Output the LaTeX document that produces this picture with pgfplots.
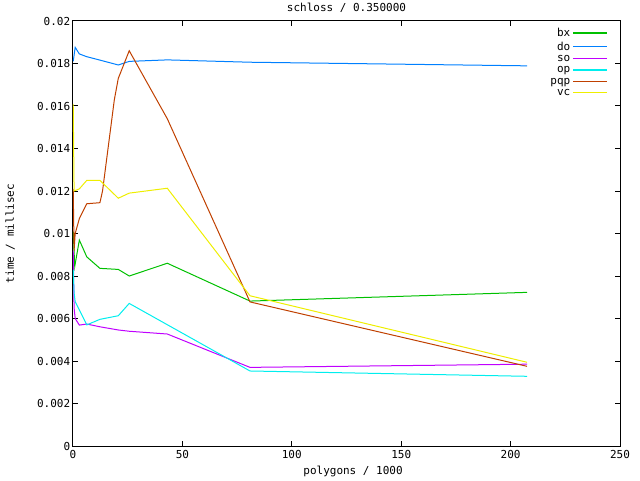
\documentclass[border=0pt]{standalone}
\usepackage{fontspec}
\setmainfont{DejaVu Sans Mono}
\usepackage{pgfplots}
\pgfplotsset{compat=1.18}

\definecolor{gbx}{RGB}{0,192,0}
\definecolor{gdo}{RGB}{0,128,255}
\definecolor{gso}{RGB}{192,0,255}
\definecolor{gop}{RGB}{0,238,238}
\definecolor{gpqp}{RGB}{192,64,0}
\definecolor{gvc}{RGB}{238,238,0}

\begin{document}
\fontsize{11}{12}\selectfont
\begin{tikzpicture}
\useasboundingbox (-73pt,-34pt) rectangle (567pt,446pt);
\begin{axis}[
    at={(0pt,0pt)}, anchor=south west,
    scale only axis,
    width=547pt, height=425pt,
    xmin=0, xmax=250,
    ymin=0, ymax=0.02,
    xtick={0,50,100,150,200,250},
    ytick={0,0.002,0.004,0.006,0.008,0.01,0.012,0.014,0.016,0.018,0.02},
    yticklabels={0,0.002,0.004,0.006,0.008,0.01,0.012,0.014,0.016,0.018,0.02},
    scaled y ticks=false,
    /pgf/number format/assume math mode=true,
    tick align=inside,
    major tick length=5pt,
    axis line style={line width=1pt},
    every tick/.style={black, line width=1pt},
    ticklabel style={font=\fontsize{11}{12}\selectfont},
    yticklabel style={xshift=1pt},
    title={schloss / 0.350000},
    title style={at={(axis description cs:0.5,1.0)}, anchor=south, yshift=-1pt},
    xlabel={polygons / 1000},
    xlabel style={at={(axis description cs:0.512,-0.059)}, anchor=center},
    ylabel={time / millisec},
    ylabel style={at={(axis description cs:-0.115,0.5)}, anchor=center},
    legend style={at={(0.978,0.988)}, anchor=north east, draw=none, fill=none,
        font=\fontsize{11}{12}\selectfont, row sep=-0.5pt, inner sep=0pt},
    legend cell align=right,
    legend plot pos=right,
    legend image code/.code={%
        \draw[#1, line width=1.4pt] (0pt,0.5pt) -- (34pt,0.5pt);},
    every axis plot/.append style={line width=1pt},
]
% bx
\addplot[gbx] coordinates {
  (0.1,0.0101) (0.8,0.00845) (2.9,0.00969) (6.3,0.0089) (12.3,0.00836)
  (20.7,0.00831) (25.7,0.0080) (43.1,0.0086) (80.9,0.00682) (207.5,0.00723)
};
\addlegendentry{bx}
% do
\addplot[gdo] coordinates {
  (0.1,0.0181) (1.0,0.01876) (2.9,0.01845) (6.3,0.01832) (12.3,0.01816)
  (20.7,0.01793) (25.7,0.01810) (43.1,0.01817) (80.9,0.01806) (207.5,0.01789)
};
\addlegendentry{do}
% so
\addplot[gso] coordinates {
  (0.1,0.0092) (0.5,0.0065) (1.0,0.0060) (2.9,0.00569) (6.3,0.00574)
  (12.3,0.00561) (20.7,0.00546) (25.7,0.0054) (43.1,0.00527) (80.9,0.0037)
  (207.5,0.00385)
};
\addlegendentry{so}
% op
\addplot[gop] coordinates {
  (0.1,0.0083) (0.5,0.0072) (1.0,0.0068) (2.9,0.0064) (6.3,0.0057)
  (12.3,0.00596) (20.7,0.00613) (25.7,0.00671) (80.9,0.00353) (207.5,0.00328)
};
\addlegendentry{op}
% pqp
\addplot[gpqp] coordinates {
  (0.1,0.0121) (0.5,0.0092) (1.0,0.0100) (2.9,0.0107) (6.3,0.0114)
  (12.3,0.01145) (13.5,0.0120) (18.9,0.0163) (20.7,0.0173) (25.7,0.0186)
  (43.1,0.0154) (80.9,0.00678) (207.5,0.00375)
};
\addlegendentry{pqp}
% vc
\addplot[gvc] coordinates {
  (0.1,0.0161) (0.5,0.0120) (2.9,0.0121) (6.3,0.0125) (12.3,0.0125)
  (20.7,0.01166) (25.7,0.0119) (43.1,0.01213) (80.9,0.00707) (207.5,0.00394)
};
\addlegendentry{vc}
\end{axis}
\end{tikzpicture}
\end{document}
